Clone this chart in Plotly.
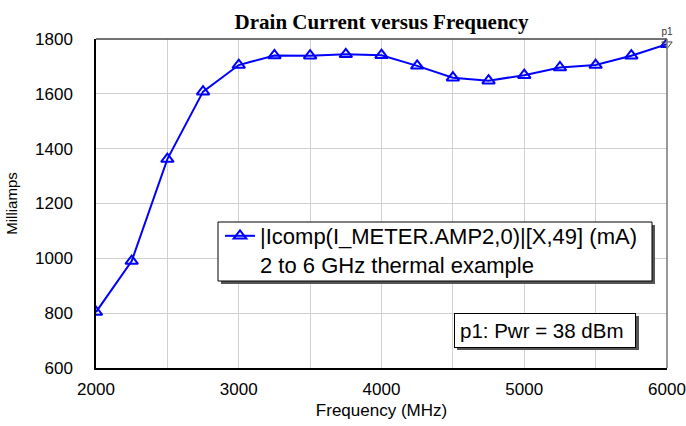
import plotly.graph_objects as go

freq = [2000, 2250, 2500, 2750, 3000, 3250, 3500, 3750, 4000, 4250,
        4500, 4750, 5000, 5250, 5500, 5750, 6000]
current_ma = [804, 990, 1362, 1608, 1705, 1740, 1739, 1744, 1741, 1702,
              1659, 1648, 1668, 1696, 1705, 1739, 1781]
series_name = "|Icomp(I_METER.AMP2,0)|[X,49] (mA)<br>2 to 6 GHz thermal example"
x_tickvals = [2000, 2500, 3000, 3500, 4000, 4500, 5000, 5500, 6000]
x_ticktext = ["2000", "", "3000", "", "4000", "", "5000", "", "6000"]
y_tickvals = [600, 800, 1000, 1200, 1400, 1600, 1800]
marker_x = [6000]
marker_y = [1781]

fig = go.Figure()
fig.add_trace(go.Scatter(
    x=freq, y=current_ma, mode="lines+markers", name=series_name,
    line=dict(color="#0000ff", width=2),
    marker=dict(symbol="triangle-up-open", size=11, color="#0000ff",
                line=dict(width=2, color="#0000ff")),
))
fig.add_trace(go.Scatter(
    x=marker_x, y=marker_y, mode="markers+text", text=["p1"],
    textposition="top center", textfont=dict(size=10, color="#333333", family="Arial"),
    marker=dict(symbol="triangle-down-open", size=9, color="#444444",
                line=dict(width=1, color="#444444")),
    showlegend=False, cliponaxis=False,
))

# plot area in pixels: x 96..667, y 39..368
def px_x(p):
    return (p - 96) / 571

def px_y(p):
    return (368 - p) / 329

shapes = [
    # legend shadow + box
    dict(type="rect", xref="paper", yref="paper",
         x0=px_x(221), x1=px_x(655), y0=px_y(284), y1=px_y(225),
         fillcolor="#555555", line=dict(width=0), layer="above"),
    dict(type="rect", xref="paper", yref="paper",
         x0=px_x(218), x1=px_x(652), y0=px_y(281), y1=px_y(222),
         fillcolor="white", line=dict(width=1, color="black"), layer="above"),
    # annotation shadow
    dict(type="rect", xref="paper", yref="paper",
         x0=px_x(457), x1=px_x(639), y0=px_y(350), y1=px_y(316),
         fillcolor="#555555", line=dict(width=0), layer="above"),
    # top / right frame
    dict(type="line", xref="paper", yref="paper", x0=0, x1=1, y0=1, y1=1,
         line=dict(color="#444444", width=1.5)),
    dict(type="line", xref="paper", yref="paper", x0=1, x1=1, y0=0, y1=1,
         line=dict(color="#777777", width=1.5)),
]

fig.update_layout(
    width=686, height=426,
    margin=dict(l=96, r=19, t=39, b=58),
    paper_bgcolor="white", plot_bgcolor="white",
    title=dict(text="<b>Drain Current versus Frequency</b>",
               font=dict(family="Liberation Serif, Times New Roman, serif", size=21, color="black"),
               xref="paper", x=0.5, xanchor="center", y=1 - 22 / 426, yanchor="middle"),
    font=dict(family="Liberation Sans, Arial, sans-serif", color="black"),
    xaxis=dict(range=[2000, 6000], tickvals=x_tickvals, ticktext=x_ticktext,
               showgrid=True, gridcolor="#d0d0d0", gridwidth=1,
               showline=True, linecolor="black", linewidth=1.5, automargin=False,
               ticks="", tickfont=dict(size=17), zeroline=False, ticklabelstandoff=5,
               title=dict(text="Frequency (MHz)", font=dict(size=17), standoff=6)),
    yaxis=dict(range=[600, 1800], tickvals=y_tickvals,
               showgrid=True, gridcolor="#d0d0d0", gridwidth=1,
               showline=True, linecolor="black", linewidth=1.5, automargin=False,
               ticks="", tickfont=dict(size=17), zeroline=False, ticklabelstandoff=18,
               title=dict(text="Milliamps", font=dict(size=15), standoff=14)),
    legend=dict(x=px_x(220), y=px_y(215), xanchor="left", yanchor="top",
                bgcolor="rgba(0,0,0,0)", borderwidth=0, valign="top",
                font=dict(size=22, family="Liberation Sans, Arial, sans-serif"),
                itemwidth=30, tracegroupgap=0),
    shapes=shapes,
    annotations=[dict(text="p1: Pwr = 38 dBm", xref="paper", yref="paper",
                      x=px_x(454), y=px_y(313), xanchor="left", yanchor="top",
                      showarrow=False, bgcolor="white", bordercolor="black",
                      borderwidth=1, borderpad=5, width=170, align="left",
                      font=dict(size=20.5, family="Liberation Sans, Arial, sans-serif"))],
)

fig.write_html("out.html", config={"displayModeBar": False},
               post_script="document.body.style.margin='0';document.body.style.overflow='hidden';")
